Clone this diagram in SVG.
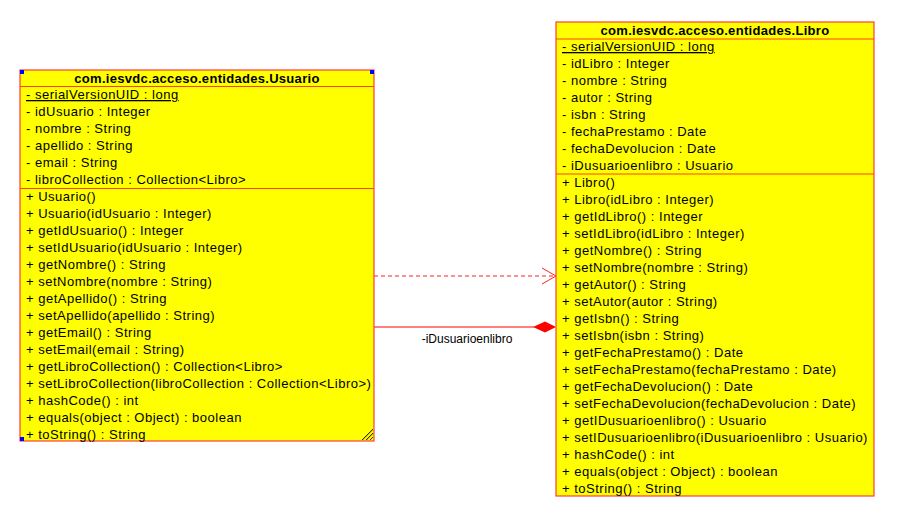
<svg xmlns="http://www.w3.org/2000/svg" width="908" height="519" viewBox="0 0 908 519">
<style>
text{font-family:"Liberation Sans",Arial,sans-serif;font-size:13px;letter-spacing:0.5px;fill:#000}
.t{font-weight:bold;text-anchor:middle;letter-spacing:0.3px}
.u{text-decoration:underline}
.lbl{font-size:12px;letter-spacing:0;text-anchor:middle}
.box{fill:#ffff00;stroke:#ff3c3c;stroke-width:1.2}
.sep{stroke:#ff4010;stroke-width:1}
.h{fill:#0000ff}
</style>
<rect width="908" height="519" fill="#fff"/>
<g id="connectors">
<line x1="374" y1="276" x2="555" y2="276" stroke="#ff2020" stroke-dasharray="4,3"/>
<polyline points="542,268 556,276 542,284" fill="none" stroke="#ff2020"/>
<line x1="374" y1="327" x2="534" y2="327" stroke="#ff0000"/>
<polygon points="533,327 545,321.5 556,327 545,332.5" fill="#ff0000"/>
<text class="lbl" x="467" y="343">-iDusuarioenlibro</text>
</g>
<g id="usuario">
<rect class="box" x="20" y="70" width="354" height="371"/>
<line class="sep" x1="20" y1="86.5" x2="374" y2="86.5"/>
<line class="sep" x1="20" y1="188.5" x2="374" y2="188.5"/>
<text class="t" x="197" y="83">com.iesvdc.acceso.entidades.Usuario</text>
<text class="u" x="26" y="99">- serialVersionUID : long</text>
<text x="26" y="116">- idUsuario : Integer</text>
<text x="26" y="133">- nombre : String</text>
<text x="26" y="150">- apellido : String</text>
<text x="26" y="167">- email : String</text>
<text x="26" y="184">- libroCollection : Collection&lt;Libro&gt;</text>
<text x="26" y="201">+ Usuario()</text>
<text x="26" y="218">+ Usuario(idUsuario : Integer)</text>
<text x="26" y="235">+ getIdUsuario() : Integer</text>
<text x="26" y="252">+ setIdUsuario(idUsuario : Integer)</text>
<text x="26" y="269">+ getNombre() : String</text>
<text x="26" y="286">+ setNombre(nombre : String)</text>
<text x="26" y="303">+ getApellido() : String</text>
<text x="26" y="320">+ setApellido(apellido : String)</text>
<text x="26" y="337">+ getEmail() : String</text>
<text x="26" y="354">+ setEmail(email : String)</text>
<text x="26" y="371">+ getLibroCollection() : Collection&lt;Libro&gt;</text>
<text x="26" y="388">+ setLibroCollection(libroCollection : Collection&lt;Libro&gt;)</text>
<text x="26" y="405">+ hashCode() : int</text>
<text x="26" y="422">+ equals(object : Object) : boolean</text>
<text x="26" y="439">+ toString() : String</text>
<rect class="h" x="20" y="70" width="4" height="4"/>
<rect class="h" x="370" y="70" width="4" height="4"/>
<rect class="h" x="20" y="437" width="4" height="4"/>
<g stroke="#000" stroke-width="0.8">
<line x1="362" y1="440" x2="373" y2="429"/>
<line x1="366" y1="440" x2="373" y2="433"/>
<line x1="370" y1="440" x2="373" y2="437"/>
</g>
<g stroke="#b0b000" stroke-width="0.8">
<line x1="363" y1="440" x2="373" y2="430"/>
<line x1="367" y1="440" x2="373" y2="434"/>
</g>
</g>
<g id="libro">
<rect class="box" x="556" y="22" width="318" height="474"/>
<line class="sep" x1="556" y1="39" x2="874" y2="39"/>
<line class="sep" x1="556" y1="174" x2="874" y2="174"/>
<text class="t" x="715" y="35">com.iesvdc.acceso.entidades.Libro</text>
<text class="u" x="562" y="51">- serialVersionUID : long</text>
<text x="562" y="68">- idLibro : Integer</text>
<text x="562" y="85">- nombre : String</text>
<text x="562" y="102">- autor : String</text>
<text x="562" y="119">- isbn : String</text>
<text x="562" y="136">- fechaPrestamo : Date</text>
<text x="562" y="153">- fechaDevolucion : Date</text>
<text x="562" y="170">- iDusuarioenlibro : Usuario</text>
<text x="562" y="187">+ Libro()</text>
<text x="562" y="204">+ Libro(idLibro : Integer)</text>
<text x="562" y="221">+ getIdLibro() : Integer</text>
<text x="562" y="238">+ setIdLibro(idLibro : Integer)</text>
<text x="562" y="255">+ getNombre() : String</text>
<text x="562" y="272">+ setNombre(nombre : String)</text>
<text x="562" y="289">+ getAutor() : String</text>
<text x="562" y="306">+ setAutor(autor : String)</text>
<text x="562" y="323">+ getIsbn() : String</text>
<text x="562" y="340">+ setIsbn(isbn : String)</text>
<text x="562" y="357">+ getFechaPrestamo() : Date</text>
<text x="562" y="374">+ setFechaPrestamo(fechaPrestamo : Date)</text>
<text x="562" y="391">+ getFechaDevolucion() : Date</text>
<text x="562" y="408">+ setFechaDevolucion(fechaDevolucion : Date)</text>
<text x="562" y="425">+ getIDusuarioenlibro() : Usuario</text>
<text x="562" y="442">+ setIDusuarioenlibro(iDusuarioenlibro : Usuario)</text>
<text x="562" y="459">+ hashCode() : int</text>
<text x="562" y="476">+ equals(object : Object) : boolean</text>
<text x="562" y="493">+ toString() : String</text>
</g>
</svg>
